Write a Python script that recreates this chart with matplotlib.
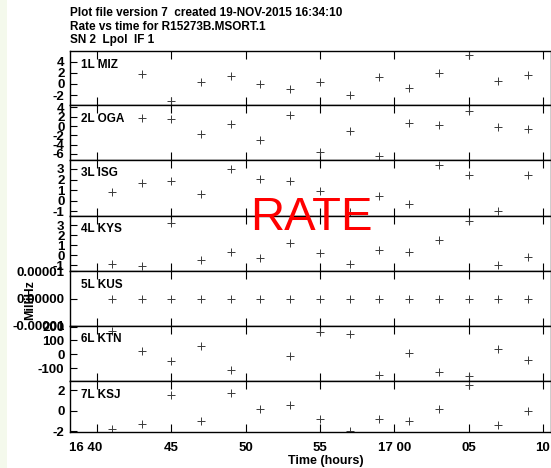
import numpy as np
import matplotlib
matplotlib.use('Agg')
import matplotlib.pyplot as plt
import matplotlib.transforms as mtransforms
from matplotlib.patches import Rectangle
from matplotlib.ticker import FixedLocator, FormatStrFormatter

plt.rcParams['font.family'] = ['Liberation Sans', 'DejaVu Sans']
plt.rcParams['font.weight'] = 'bold'
plt.rcParams['axes.unicode_minus'] = False

# Data: minutes after 16:00
times = [41, 43, 45, 47, 49, 51, 53, 55, 57, 59, 61, 63, 65, 67, 69]
nan = np.nan
rate_miz = [nan, 1.73, -2.98, 0.41, 1.48, 0.05, -0.95, 0.3, -1.9, 1.2, -0.71, 1.96, 5.18, 0.54, 1.6]
rate_oga = [nan, 1.8, 1.43, -1.65, 0.36, -3.0, 2.3, -5.6, -1.15, -6.45, 0.57, 0.15, 3.3, -0.15, -0.58]
rate_isg = [0.85, 1.67, 1.89, 0.66, 2.96, 2.08, 1.89, 0.94, -1.04, 0.44, -0.28, 3.34, 2.45, -0.94, 2.4]
rate_kys = [-0.93, -1.1, 3.23, -0.53, 0.27, -0.3, 1.2, 0.23, -0.9, 0.53, 0.33, 1.47, 3.43, -0.97, -0.23]
rate_kus = [0.0] * 15
rate_ktn = [168, 24, -48, 62, -113, nan, -14, 160, 144, -151, 7, -125, -158, 38, -39]
rate_ksj = [-1.75, -1.29, 1.52, -0.97, 1.75, 0.17, 0.55, -0.78, -2.0, -0.81, -0.97, 0.19, 2.5, -1.42, 0.0]

panel_names = ['1L MIZ', '2L OGA', '3L ISG', '4L KYS', '5L KUS', '6L KTN', '7L KSJ']
series = [rate_miz, rate_oga, rate_isg, rate_kys, rate_kus, rate_ktn, rate_ksj]
x_ticks = [40, 45, 50, 55, 60, 65, 70]
x_labels = ['16 40', '45', '50', '55', '17 00', '05', '10']

# Layout (pixels)
W, H = 551, 468
fig = plt.figure(figsize=(W / 100, H / 100), dpi=100)
fig.patch.set_facecolor('white')
fig.add_artist(Rectangle((0, 0), 7 / W, 1, transform=fig.transFigure,
                         facecolor='#f4f9ec', edgecolor='none'))

left_px, right_px = 70, 551
tops = [51, 105, 160, 216, 271, 326, 381, 432]
ylims = [(-3.75, 5.89), (-7.31, 4.52), (-1.44, 3.84), (-1.6, 3.9),
         (-1.0e-5, 1.0e-5), (-192, 204), (-2.07, 2.88)]
yticks = [[-2, 0, 2, 4], [-6, -4, -2, 0, 2, 4], [-1, 0, 1, 2, 3], [-1, 0, 1, 2, 3],
          [-1e-5, 0, 1e-5], [-100, 0, 100, 200], [-2, 0, 2]]
xlim = (38.19, 70.54)

axes = []
for i in range(7):
    y0 = 1 - tops[i + 1] / H
    h = (tops[i + 1] - tops[i]) / H
    ax = fig.add_axes([left_px / W, y0, (right_px - left_px) / W, h])
    ax.plot(times, series[i], linestyle='none', marker='+', color='#3a3a3a',
            markersize=6, markeredgewidth=0.7)
    ax.set_xlim(*xlim)
    ax.set_ylim(*ylims[i])
    ax.yaxis.set_major_locator(FixedLocator(yticks[i]))
    if i == 4:
        ax.yaxis.set_major_formatter(FormatStrFormatter('%.5f'))
    ax.set_xticks(x_ticks)
    ax.tick_params(axis='x', direction='in', length=6, width=0.8, top=True,
                   bottom=True, labelsize=9.5, pad=7)
    ax.tick_params(axis='y', direction='in', length=5, width=0.8, labelsize=9.5, pad=4)
    for lab in ax.get_yticklabels():
        lab.set_fontweight('bold')
    if i < 6:
        ax.set_xticklabels([])
    else:
        ax.set_xticklabels(x_labels, fontweight='bold')
    for s in ax.spines.values():
        s.set_linewidth(1.0)
    ax.text(11 / (right_px - left_px), 1 - 13.5 / (tops[i + 1] - tops[i]), panel_names[i],
            transform=ax.transAxes, fontsize=8.5, fontweight='bold', va='center', ha='left')
    axes.append(ax)

# first x label: "40" sits on its tick, "16" hangs to the left
fig.canvas.draw()
lbl = axes[6].get_xticklabels()[0]
lbl.set_horizontalalignment('right')
lbl.set_transform(lbl.get_transform() +
                  mtransforms.ScaledTranslation(5 / 100, 0, fig.dpi_scale_trans))

# Titles
title_lines = ['Plot file version 7  created 19-NOV-2015 16:34:10',
               'Rate vs time for R15273B.MSORT.1',
               'SN 2  Lpol  IF 1']
for k, line in enumerate(title_lines):
    fig.text(70 / W, 1 - (13 + 13.5 * k) / H, line, fontsize=8.5, fontweight='bold',
             ha='left', va='center')

fig.text(326 / W, 1 - 461 / H, 'Time (hours)', fontsize=9, fontweight='bold',
         ha='center', va='center')
fig.text(30 / W, 1 - 300 / H, 'MilliHz', fontsize=9, fontweight='bold',
         ha='center', va='center', rotation=90)

fig.text(311 / W, 1 - 218 / H, 'RATE', fontsize=34, fontweight='normal', color='red',
         ha='center', va='center')

fig.savefig('out.png', dpi=100)
